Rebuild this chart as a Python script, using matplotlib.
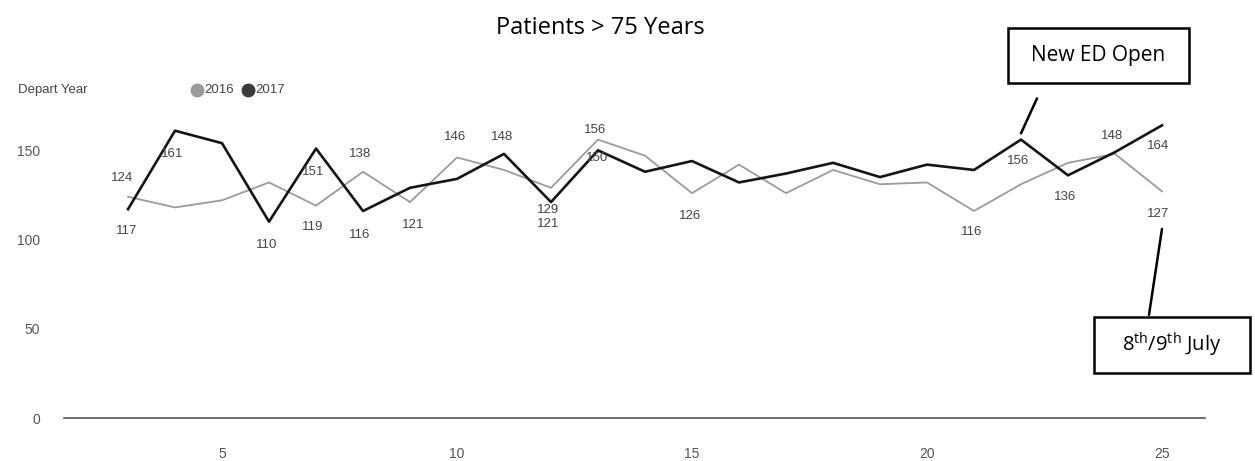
import matplotlib.pyplot as plt
from matplotlib.patches import Rectangle

plt.rcParams['font.family'] = ['Liberation Sans', 'DejaVu Sans']
plt.rcParams['mathtext.fontset'] = 'custom'
plt.rcParams['mathtext.rm'] = 'Open Sans'

days = list(range(3, 26))
v2016 = [124, 118, 122, 132, 119, 138, 121, 146, 139, 129, 156, 147, 126,
         142, 126, 139, 131, 132, 116, 131, 143, 148, 127]
v2017 = [117, 161, 154, 110, 151, 116, 129, 134, 148, 121, 150, 138, 144,
         132, 137, 143, 135, 142, 139, 156, 136, 149, 164]
yticks = [0, 50, 100, 150]
xticks = [5, 10, 15, 20, 25]

# which points carry a data label, and label offset in pixels (up = +)
lab2016 = {3: (-6, 19), 7: (-3, -21), 8: (-3, 18), 9: (3, -23), 10: (-2, 20),
           12: (-3, -22), 13: (-3, 10), 15: (-2, -23), 21: (-2, -21),
           24: (-3, 18), 25: (-4, -23)}
lab2017 = {3: (-1, -22), 4: (-3, -23), 6: (-2, -23), 7: (-3, -23), 8: (-3, -24),
           11: (-2, 17), 12: (-3, -22), 13: (-1, -8), 22: (-3, -21),
           23: (-3, -22), 25: (-4, -21)}

W, H = 1255, 461
fig = plt.figure(figsize=(W / 100, H / 100), dpi=100)

def fx(px):
    return px / W

def fy(py):
    return 1 - py / H

ax = fig.add_axes([fx(64), fy(418), fx(1205) - fx(64), fy(110) - fy(418)])
ax.set_xlim(1.638, 25.915)
ax.set_ylim(0, 172.6)

c16 = '#9b9b9b'
c17 = '#151515'
ax.plot(days, v2016, color=c16, lw=1.3, zorder=3)
ax.plot(days, v2017, color=c17, lw=1.9, zorder=4)
ax.axhline(0, color='#555555', lw=1.2, clip_on=False)

for d, (dx, dy) in lab2016.items():
    ax.annotate(str(v2016[d - 3]), (d, v2016[d - 3]), xytext=(dx * 0.72, dy * 0.72),
                textcoords='offset points', ha='center', va='center',
                fontsize=9.5, color='#444444', zorder=5)
for d, (dx, dy) in lab2017.items():
    ax.annotate(str(v2017[d - 3]), (d, v2017[d - 3]), xytext=(dx * 0.72, dy * 0.72),
                textcoords='offset points', ha='center', va='center',
                fontsize=9.5, color='#444444', zorder=5)

for s in ax.spines.values():
    s.set_visible(False)
ax.set_yticks(yticks)
ax.set_xticks(xticks)
ax.tick_params(length=0, labelsize=10, labelcolor='#555555')
ax.tick_params(axis='x', pad=21)
ax.tick_params(axis='y', pad=17)

fig.text(fx(600), fy(28), 'Patients > 75 Years', ha='center', va='center',
         fontsize=17, family='Open Sans')

# legend
fig.text(fx(18), fy(90), 'Depart Year', ha='left', va='center', fontsize=9.5, color='#444444')
fig.add_artist(plt.Line2D([fx(197)], [fy(90)], marker='o', ms=9, color=c16, transform=fig.transFigure))
fig.text(fx(204), fy(90), '2016', ha='left', va='center', fontsize=9.5, color='#444444')
fig.add_artist(plt.Line2D([fx(248)], [fy(90)], marker='o', ms=9, color='#3a3a3a', transform=fig.transFigure))
fig.text(fx(255), fy(90), '2017', ha='left', va='center', fontsize=9.5, color='#444444')

# callout boxes
fig.add_artist(Rectangle((fx(1008), fy(83)), fx(1189) - fx(1008), fy(28) - fy(83),
                         fill=False, ec='black', lw=1.8, transform=fig.transFigure))
fig.text(fx(1098), fy(56), 'New ED Open', ha='center', va='center', fontsize=15, family='Open Sans')
fig.add_artist(Rectangle((fx(1094), fy(373)), fx(1250) - fx(1094), fy(317) - fy(373),
                         fill=False, ec='black', lw=1.8, transform=fig.transFigure))
fig.text(fx(1172), fy(345), r'8$^{\mathrm{th}}$/9$^{\mathrm{th}}$ July', ha='center', va='center',
         fontsize=14.5, family='Open Sans')

ax.annotate('', xy=(22, v2017[22 - 3] + 3.5), xytext=(16 * 0.72, 35 * 0.72),
            textcoords='offset points', annotation_clip=False,
            arrowprops=dict(arrowstyle='-', color='black', lw=1.8, shrinkA=0, shrinkB=0))
ax.annotate('', xy=(25, v2016[25 - 3] - 21), xytext=(-13 * 0.72, -86 * 0.72),
            textcoords='offset points', annotation_clip=False,
            arrowprops=dict(arrowstyle='-', color='black', lw=1.8, shrinkA=0, shrinkB=0))

fig.savefig('out.png', dpi=100)
